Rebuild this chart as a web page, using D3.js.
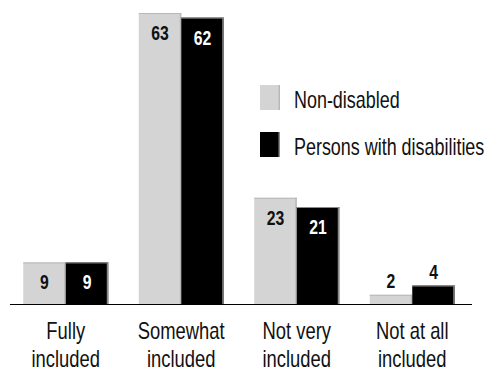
<!DOCTYPE html>
<html>
<head>
<meta charset="utf-8">
<script src="https://cdn.jsdelivr.net/npm/d3@7"></script>
<style>
  html, body { margin: 0; padding: 0; background: #fff; }
  svg { display: block; }
  text { font-family: "Liberation Sans", Arial, sans-serif; }
</style>
</head>
<body>
<svg id="chart" width="487" height="371"></svg>
<script>
// Perceived inclusion, % of respondents
const categories = [["Fully", "included"], ["Somewhat", "included"], ["Not very", "included"], ["Not at all", "included"]];
const seriesNames = ["Non-disabled", "Persons with disabilities"];
const nonDisabled = [9, 63, 23, 2];
const withDisabilities = [9, 62, 21, 4];

const colors = ["#d4d4d4", "#000000"];
const edgeColors = ["#b8b8b8", "#8a8a8a"];
const labelColors = ["#111", "#fff"];

const svg = d3.select("#chart");
const baseY = 304;

// text squeezed horizontally for a narrow, Arial-Narrow-like face
function narrowText(parent, x, y, str, opts) {
  return parent.append("text")
    .attr("transform", `translate(${x},${y}) scale(${opts.squeeze || 0.8},1)`)
    .attr("text-anchor", opts.anchor || "start")
    .attr("font-size", opts.size)
    .attr("font-weight", opts.weight || "normal")
    .attr("fill", opts.fill || "#111")
    .text(str);
}

const x = d3.scaleBand()
  .domain(d3.range(categories.length))
  .range([8, 470])
  .paddingInner(0.264)
  .paddingOuter(0.132);

const xInner = d3.scaleBand()
  .domain(d3.range(seriesNames.length))
  .range([0, x.bandwidth()]);

const y = d3.scaleLinear().domain([0, 63]).range([baseY, 13]);

const series = [nonDisabled, withDisabilities];

series.forEach((vals, s) => {
  const g = svg.append("g");
  g.selectAll("rect.bar")
    .data(vals)
    .join("rect")
    .attr("class", "bar")
    .attr("x", (d, i) => x(i) + xInner(s))
    .attr("y", d => y(d))
    .attr("width", xInner.bandwidth())
    .attr("height", d => baseY - y(d))
    .attr("fill", colors[s]);
  // darker right edge of each bar
  g.selectAll("rect.edge")
    .data(vals)
    .join("rect")
    .attr("class", "edge")
    .attr("x", (d, i) => x(i) + xInner(s) + xInner.bandwidth() - 1.5)
    .attr("y", d => y(d))
    .attr("width", 1.5)
    .attr("height", d => baseY - y(d))
    .attr("fill", edgeColors[s]);
  // top edge
  g.selectAll("rect.top")
    .data(vals)
    .join("rect")
    .attr("class", "top")
    .attr("x", (d, i) => x(i) + xInner(s))
    .attr("y", d => y(d))
    .attr("width", xInner.bandwidth())
    .attr("height", 1)
    .attr("fill", edgeColors[s]);
});

// value labels: inside tall bars, above short ones
series.forEach((vals, s) => {
  const g = svg.append("g");
  vals.forEach((d, i) => {
    const inside = baseY - y(d) > 30;
    narrowText(g,
      x(i) + xInner(s) + xInner.bandwidth() / 2,
      inside ? y(d) + 27 : y(d) - 7,
      d,
      { anchor: "middle", size: 21, weight: "bold", squeeze: 0.75, fill: inside ? labelColors[s] : "#111" });
  });
});

// baseline
svg.append("line")
  .attr("x1", 10).attr("x2", 472)
  .attr("y1", baseY + 0.5).attr("y2", baseY + 0.5)
  .attr("stroke", "#000").attr("stroke-width", 1);

// category labels
const catG = svg.append("g");
categories.forEach((lines, i) => {
  lines.forEach((ln, k) => {
    narrowText(catG, x(i) + x.bandwidth() / 2, 339 + k * 28, ln,
      { anchor: "middle", size: 23, squeeze: 0.8 });
  });
});

// legend
const legend = svg.append("g").attr("transform", "translate(260,85)");
seriesNames.forEach((name, s) => {
  const row = legend.append("g").attr("transform", `translate(0,${s * 47})`);
  row.append("rect").attr("width", 20).attr("height", 25).attr("fill", colors[s]);
  row.append("rect").attr("x", 18.5).attr("width", 1.5).attr("height", 25).attr("fill", edgeColors[s]);
  narrowText(row, 34, 22.5, name, { size: 23, squeeze: 0.78 });
});
</script>
</body>
</html>
